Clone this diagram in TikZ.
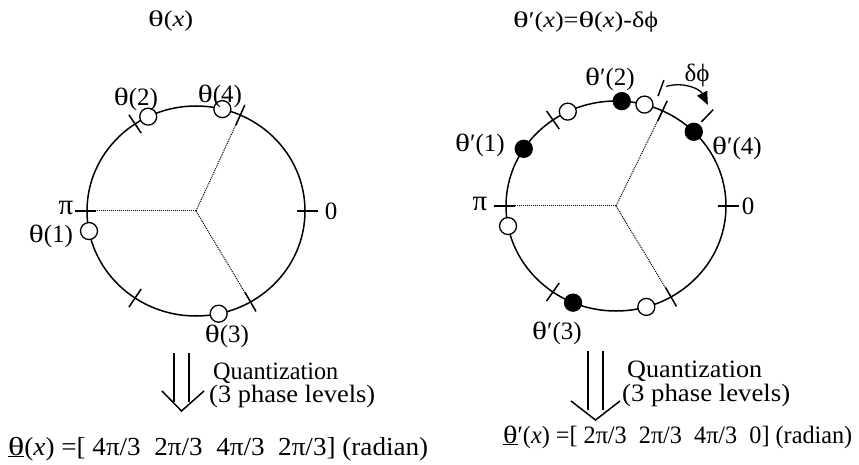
\documentclass[tikz,border=0pt]{standalone}
\usepackage{fontspec}
\usepackage{graphicx}
\setmainfont{Liberation Serif}
\usetikzlibrary{arrows.meta}
\newcommand\thw{\scalebox{1.25}[1]{θ}}
\newcommand\phw{ϕ}
\newcommand\fitw[2]{\resizebox{#1}{\height}{#2}}
\begin{document}
\begin{tikzpicture}[x=1pt,y=-1pt,
  rim/.style={line width=1.5pt},
  tickmark/.style={line width=1.5pt},
  opendot/.style={circle, draw, line width=1.3pt, fill=white, minimum size=17pt, inner sep=0pt},
  fulldot/.style={circle, draw, line width=1.3pt, fill=black, minimum size=17pt, inner sep=0pt},
  lab/.style={font=\fontsize{25}{29}\selectfont, inner sep=0pt},
  pilab/.style={font=\fontsize{29}{33}\selectfont, inner sep=0pt},
  ttl/.style={font=\fontsize{22.5}{26}\selectfont, inner sep=0pt, anchor=base west},
  qtext/.style={font=\fontsize{25}{29}\selectfont, inner sep=0pt, anchor=base west},
  resl/.style={font=\fontsize{26}{30}\selectfont, inner sep=0pt, anchor=base west},
  resr/.style={font=\fontsize{25}{29}\selectfont, inner sep=0pt, anchor=base west},
  bound/.style={densely dotted, line width=1pt},
  dbl/.style={line width=1.5pt},
]
\useasboundingbox (0,0) rectangle (859,465);

% ---------- left circle ----------
\begin{scope}[shift={(196,211)}, y=1pt]
  \coordinate (cL) at (0,0);
  \draw[rim] (cL) ellipse [x radius=109, y radius=105];
  \coordinate (Lpi) at (180:109 and 105);
  \coordinate (L60) at (66:109 and 105);
  \coordinate (L300) at (300:109 and 105);
  \draw[bound] (cL) -- (Lpi);
  \draw[bound] (cL) -- (L60);
  \draw[bound] (cL) -- (L300);
  \foreach \a in {66,124,236,300}
    \draw[tickmark] (\a:98 and 94) -- (\a:120 and 116);
  \draw[tickmark] (0:101 and 97) -- (0:122 and 118);
  \draw[tickmark] (180:100 and 96) -- (180:121 and 117);
  \node[opendot] (L1) at (191:109 and 105) {};
  \node[opendot] (L2) at (116:109 and 105) {};
  \node[opendot] (L3) at (282:109 and 105) {};
  \node[opendot] (L4) at (76:109 and 105) {};
\end{scope}
\node[lab] (tL2) at (136,99) {\thw(2)};
\node[lab] (tL4) at (220,96) {\thw(4)};
\node[pilab] (tLpi) at (66,208) {π};
\node[lab] (tL1) at (51,236) {\thw(1)};
\node[lab] (tL3) at (227,336) {\thw(3)};
\node[lab] (tL0) at (331,211) {0};

% ---------- right circle ----------
\begin{scope}[shift={(616,206)}, y=1pt]
  \coordinate (cR) at (0,0);
  \draw[rim] (cR) ellipse [x radius=110, y radius=105];
  \coordinate (Rpi) at (180:110 and 105);
  \coordinate (R60) at (65:110 and 105);
  \coordinate (R300) at (300:110 and 105);
  \draw[bound] (cR) -- (Rpi);
  \draw[bound] (cR) -- (R60);
  \draw[bound] (cR) -- (R300);
  \foreach \a in {65,125,235,300}
    \draw[tickmark] (\a:99 and 94) -- (\a:121 and 116);
  \draw[tickmark] (0:102 and 97) -- (0:123 and 118);
  \draw[tickmark] (180:101 and 96) -- (180:122 and 117);
  \node[opendot] (R1) at (191:110 and 105) {};
  \node[opendot] (R2) at (116:110 and 105) {};
  \node[opendot] (R3) at (286:110 and 105) {};
  \node[opendot] (R4) at (75:110 and 105) {};
  \node[fulldot] (F1) at (147:110 and 105) {};
  \node[fulldot] (F2) at (87:110 and 105) {};
  \node[fulldot] (F3) at (247:110 and 105) {};
  \node[fulldot] (F4) at (45:110 and 105) {};
  % delta phi indicator
  \draw[tickmark] (70:123 and 117) -- (70:140 and 134);
  \draw[tickmark] (46:123 and 117) -- (46:140 and 134);
  \coordinate (ds) at (68:134 and 129);
  \coordinate (de) at (49:140 and 134);
  \draw[line width=1.3pt, -{Triangle[length=13pt,width=11pt]}] (ds) to[bend left=40] (de);
\end{scope}
\node[lab] (tR1) at (480,145) {\thw′(1)};
\node[lab] (tR2) at (610,79) {\thw′(2)};
\node[lab] (tdp) at (697,75) {δ\phw};
\node[lab] (tR4) at (737,148) {\thw′(4)};
\node[lab] (tR0) at (748,206) {0};
\node[pilab] (tRpi) at (480,204) {π};
\node[lab] (tR3) at (557,333) {\thw′(3)};

% ---------- titles ----------
\node[ttl] (titL) at (148,27) {\fitw{45pt}{\thw(\textit{x})}};
\node[ttl] (titR) at (513,28) {\fitw{145pt}{\thw′(\textit{x})=\thw(\textit{x})-δ\phw}};

% ---------- quantization arrows ----------
\coordinate (qLa) at (174,353); \coordinate (qLb) at (174,402);
\coordinate (qLc) at (189,353); \coordinate (qLd) at (189,402);
\draw[dbl] (qLa) -- (qLb); \draw[dbl] (qLc) -- (qLd);
\coordinate (vL1) at (162,391); \coordinate (vL2) at (181.5,411); \coordinate (vL3) at (204,391);
\draw[dbl] (vL1) -- (vL2) -- (vL3);
\node[qtext] (qL1) at (213,379) {\fitw{125pt}{Quantization}};
\node[qtext] (qL2) at (209,402) {\fitw{166pt}{(3 phase levels)}};

\coordinate (qRa) at (588,351); \coordinate (qRb) at (588,410);
\coordinate (qRc) at (603,351); \coordinate (qRd) at (603,410);
\draw[dbl] (qRa) -- (qRb); \draw[dbl] (qRc) -- (qRd);
\coordinate (vR1) at (571,401); \coordinate (vR2) at (595.5,420); \coordinate (vR3) at (620,401);
\draw[dbl] (vR1) -- (vR2) -- (vR3);
\node[qtext] (qR1) at (627,377) {\fitw{135pt}{Quantization}};
\node[qtext] (qR2) at (622,401) {\fitw{168pt}{(3 phase levels)}};

% ---------- results ----------
\node[resl] (resL) at (8,455) {\fitw{420pt}{\underline{\thw}(\textit{x}) =[ 4π/3\ \ 2π/3\ \ 4π/3\ \ 2π/3] (radian)}};
\node[resr] (resR) at (503,443) {\fitw{349pt}{\underline{\thw}′(\textit{x}) =[ 2π/3\ \ 2π/3\ \ 4π/3\ \ 0] (radian)}};
\end{tikzpicture}
\end{document}
